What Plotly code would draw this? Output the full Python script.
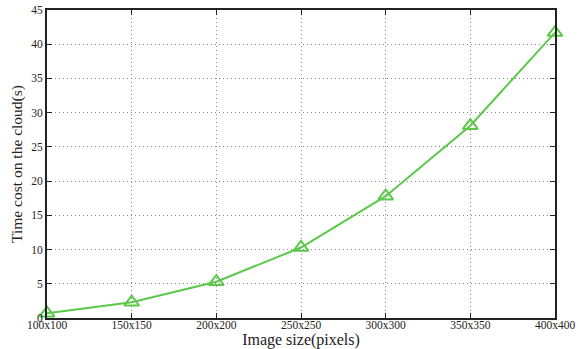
import plotly.graph_objects as go

categories = ["100x100", "150x150", "200x200", "250x250", "300x300", "350x350", "400x400"]
time_cost = [0.7, 2.3, 5.3, 10.3, 17.8, 28.1, 41.7]
y_ticks = [0, 5, 10, 15, 20, 25, 30, 35, 40, 45]

x_idx = list(range(len(categories)))
green = "#5cc84a"
serif = "Liberation Serif, Times New Roman, serif"

fig = go.Figure()
fig.add_trace(go.Scatter(
    x=x_idx, y=time_cost, mode="lines+markers",
    line=dict(color=green, width=2),
    marker=dict(symbol="triangle-up-open", size=13, color=green, line=dict(width=2, color=green)),
    cliponaxis=False, showlegend=False,
))

axis_common = dict(
    showline=True, linecolor="#222", linewidth=2, mirror="ticks",
    ticks="inside", ticklen=5, tickcolor="#222",
    showgrid=True, gridcolor="#888", griddash="1px,3px", gridwidth=1,
    zeroline=False, automargin=False,
    tickfont=dict(family=serif, size=11.5, color="#222"),
)

fig.update_xaxes(
    range=[0, len(categories) - 1], tickvals=x_idx, ticktext=categories,
    ticklabelstandoff=-5,
    title=dict(text="Image size(pixels)", font=dict(family=serif, size=16, color="#222"), standoff=0),
    **axis_common,
)
fig.update_yaxes(
    range=[0, 45], tickvals=y_ticks,
    title=dict(text="Time cost on the cloud(s)", font=dict(family=serif, size=15.5, color="#222"), standoff=5),
    **axis_common,
)
fig.update_layout(
    width=578, height=349,
    margin=dict(l=47, r=23, t=10, b=31),
    plot_bgcolor="white", paper_bgcolor="white",
)
fig.write_html("out.html", config={"displayModeBar": False},
               post_script="document.body.style.margin='0';")
